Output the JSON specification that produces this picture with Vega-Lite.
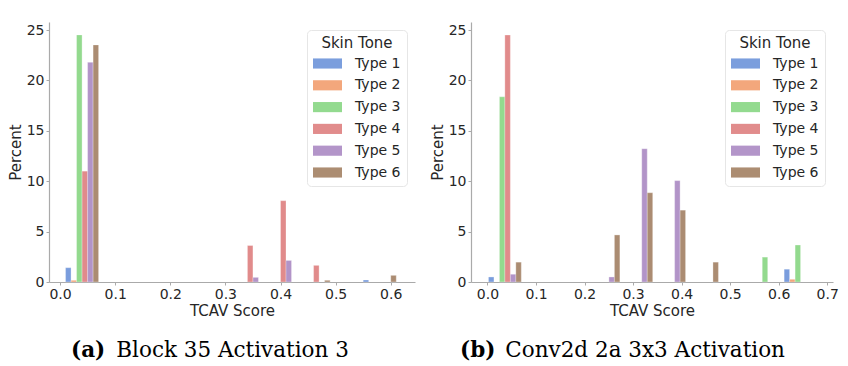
{
  "$schema": "https://vega.github.io/schema/vega-lite/v6.json",
  "background": "white",
  "padding": {"left": 8, "top": 22, "right": 0, "bottom": 0},
  "spacing": 15,
  "datasets": {
    "left": [
      {"type": "Type 1", "x0": 0.01, "x1": 0.02, "pct": 1.42},
      {"type": "Type 2", "x0": 0.02, "x1": 0.03, "pct": 0.17},
      {"type": "Type 3", "x0": 0.03, "x1": 0.04, "pct": 24.52},
      {"type": "Type 4", "x0": 0.04, "x1": 0.05, "pct": 11.0},
      {"type": "Type 5", "x0": 0.05, "x1": 0.06, "pct": 21.8},
      {"type": "Type 6", "x0": 0.06, "x1": 0.07, "pct": 23.53},
      {"type": "Type 4", "x0": 0.34, "x1": 0.35, "pct": 3.62},
      {"type": "Type 5", "x0": 0.35, "x1": 0.36, "pct": 0.46},
      {"type": "Type 4", "x0": 0.40, "x1": 0.41, "pct": 8.07},
      {"type": "Type 5", "x0": 0.41, "x1": 0.42, "pct": 2.14},
      {"type": "Type 4", "x0": 0.46, "x1": 0.47, "pct": 1.65},
      {"type": "Type 6", "x0": 0.48, "x1": 0.49, "pct": 0.17},
      {"type": "Type 1", "x0": 0.55, "x1": 0.56, "pct": 0.2},
      {"type": "Type 6", "x0": 0.60, "x1": 0.61, "pct": 0.66}
    ],
    "right": [
      {"type": "Type 1", "x0": 0.002, "x1": 0.0133, "pct": 0.5},
      {"type": "Type 3", "x0": 0.0246, "x1": 0.0358, "pct": 18.38},
      {"type": "Type 4", "x0": 0.0358, "x1": 0.0471, "pct": 24.51},
      {"type": "Type 5", "x0": 0.0471, "x1": 0.0584, "pct": 0.77},
      {"type": "Type 6", "x0": 0.0584, "x1": 0.0697, "pct": 1.97},
      {"type": "Type 5", "x0": 0.2502, "x1": 0.2615, "pct": 0.5},
      {"type": "Type 6", "x0": 0.2615, "x1": 0.2728, "pct": 4.67},
      {"type": "Type 5", "x0": 0.3179, "x1": 0.3292, "pct": 13.23},
      {"type": "Type 6", "x0": 0.3292, "x1": 0.3405, "pct": 8.86},
      {"type": "Type 5", "x0": 0.3856, "x1": 0.3969, "pct": 10.06},
      {"type": "Type 6", "x0": 0.3969, "x1": 0.4082, "pct": 7.13},
      {"type": "Type 6", "x0": 0.4646, "x1": 0.4759, "pct": 1.97},
      {"type": "Type 3", "x0": 0.5662, "x1": 0.5775, "pct": 2.47},
      {"type": "Type 1", "x0": 0.6113, "x1": 0.6226, "pct": 1.27},
      {"type": "Type 2", "x0": 0.6226, "x1": 0.6339, "pct": 0.27},
      {"type": "Type 3", "x0": 0.6339, "x1": 0.6452, "pct": 3.67}
    ]
  },
  "hconcat": [
    {
      "width": 366,
      "height": 260,
      "data": {"name": "left"},
      "title": {
        "text": "(a)",
        "subtitle": "\u200b\u00a0\u00a0\u00a0\u00a0\u00a0\u00a0\u2009Block 35 Activation 3",
        "orient": "bottom",
        "anchor": "start",
        "frame": "group",
        "align": "left",
        "dx": 22,
        "offset": 22
      },
      "mark": {"type": "bar", "opacity": 0.72, "stroke": "white", "strokeWidth": 0.5, "strokeOpacity": 0.6},
      "encoding": {
        "x": {
          "field": "x0", "type": "quantitative", "title": "TCAV Score",
          "scale": {"domain": [-0.02, 0.644], "nice": false, "zero": false},
          "axis": {"values": [0, 0.1, 0.2, 0.3, 0.4, 0.5, 0.6], "format": ".1f"}
        },
        "x2": {"field": "x1"},
        "y": {
          "field": "pct", "type": "quantitative", "title": "Percent",
          "scale": {"domain": [0, 25.8], "nice": false},
          "axis": {"values": [0, 5, 10, 15, 20, 25]}
        },
        "y2": {"datum": 0},
        "color": {
          "field": "type", "type": "nominal", "title": "Skin Tone",
          "scale": {
            "domain": ["Type 1", "Type 2", "Type 3", "Type 4", "Type 5", "Type 6"],
            "range": ["#4878d0", "#ee854a", "#6acc64", "#d65f5f", "#956cb4", "#8c613c"]
          },
          "legend": {"orient": "top-right", "offset": 8}
        }
      }
    },
    {
      "width": 362,
      "height": 260,
      "data": {"name": "right"},
      "title": {
        "text": "(b)",
        "subtitle": "\u200b\u00a0\u00a0\u00a0\u00a0\u00a0\u00a0\u2009Conv2d 2a 3x3 Activation",
        "orient": "bottom",
        "anchor": "start",
        "frame": "group",
        "align": "left",
        "dx": -11,
        "offset": 22
      },
      "mark": {"type": "bar", "opacity": 0.72, "stroke": "white", "strokeWidth": 0.5, "strokeOpacity": 0.6},
      "encoding": {
        "x": {
          "field": "x0", "type": "quantitative", "title": "TCAV Score",
          "scale": {"domain": [-0.034, 0.712], "nice": false, "zero": false},
          "axis": {"values": [0, 0.1, 0.2, 0.3, 0.4, 0.5, 0.6, 0.7], "format": ".1f"}
        },
        "x2": {"field": "x1"},
        "y": {
          "field": "pct", "type": "quantitative", "title": "Percent",
          "scale": {"domain": [0, 25.8], "nice": false},
          "axis": {"values": [0, 5, 10, 15, 20, 25]}
        },
        "y2": {"datum": 0},
        "color": {
          "field": "type", "type": "nominal", "title": "Skin Tone",
          "scale": {
            "domain": ["Type 1", "Type 2", "Type 3", "Type 4", "Type 5", "Type 6"],
            "range": ["#4878d0", "#ee854a", "#6acc64", "#d65f5f", "#956cb4", "#8c613c"]
          },
          "legend": {"orient": "top-right", "offset": 8}
        }
      }
    }
  ],
  "resolve": {
    "scale": {"x": "independent", "y": "independent", "color": "independent"},
    "legend": {"color": "independent"}
  },
  "config": {
    "font": "DejaVu Sans",
    "view": {"stroke": null},
    "axis": {
      "grid": false,
      "domainColor": "#aaaaaa",
      "domainWidth": 1.2,
      "tickColor": "#aaaaaa",
      "tickSize": 3,
      "labelPadding": 2,
      "labelFont": "DejaVu Sans",
      "labelFontSize": 14,
      "labelColor": "#262626",
      "titleFont": "DejaVu Sans",
      "titleFontSize": 15,
      "titleFontWeight": "normal",
      "titleColor": "#262626"
    },
    "axisX": {"titlePadding": 2, "labelFlush": false},
    "axisY": {"titlePadding": 3, "labelFlush": false},
    "legend": {
      "fillColor": "white",
      "strokeColor": "#e6e6e6",
      "cornerRadius": 4,
      "padding": 6,
      "titleFont": "DejaVu Sans",
      "titleFontSize": 15,
      "titleFontWeight": "normal",
      "titleColor": "#262626",
      "titleAnchor": "middle",
      "titlePadding": 5,
      "labelFont": "DejaVu Sans",
      "labelFontSize": 14,
      "labelColor": "#262626",
      "labelOffset": 20,
      "symbolType": "M-2,-0.7L2,-0.7L2,0.7L-2,0.7Z",
      "symbolSize": 210,
      "symbolOpacity": 0.72,
      "symbolStrokeWidth": 0,
      "symbolOffset": 7,
      "rowPadding": 6.8
    },
    "title": {
      "font": "DejaVu Serif",
      "fontSize": 21.5,
      "fontWeight": "bold",
      "color": "black",
      "subtitleFont": "DejaVu Serif",
      "subtitleFontSize": 21.5,
      "subtitleFontWeight": "normal",
      "subtitleColor": "black",
      "subtitlePadding": -21.5
    }
  }
}
